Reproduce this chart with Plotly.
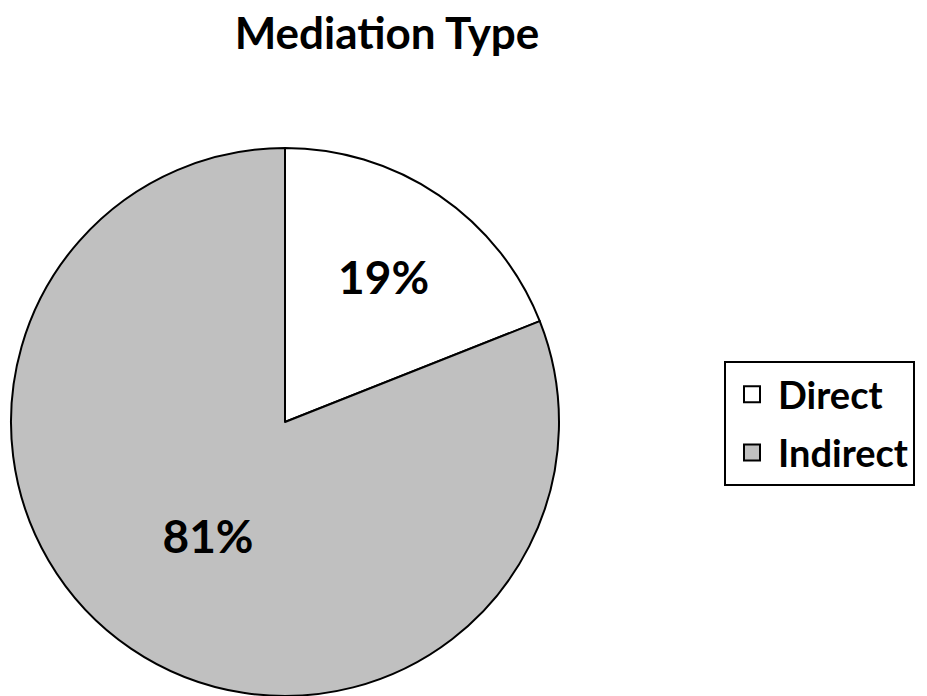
import plotly.graph_objects as go

labels = ["Direct", "Indirect"]
values = [19, 81]
colors = ["#ffffff", "#c0c0c0"]
title_text = "Mediation Type"

W, H = 927, 696
T = 60  # top margin reserved for the title
PH = H - T  # plotting-area height
cx, cy, r = 277, 414, 274  # target (285, 421) after the page's 8px body margin

fig = go.Figure()
fig.add_trace(go.Pie(
    labels=labels,
    values=values,
    sort=False,
    direction="clockwise",
    rotation=0,
    marker=dict(colors=colors, line=dict(color="black", width=2)),
    textinfo="percent",
    texttemplate="%{percent:.0%}",
    textposition="inside",
    insidetextorientation="horizontal",
    textfont=dict(family="Lato", size=46, color="black", weight="bold"),
    domain=dict(x=[(cx - r) / W, (cx + r) / W],
                y=[1 - (cy + r - T) / PH, 1 - (cy - r - T) / PH]),
    hoverinfo="label+percent",
    showlegend=False,
))

# legend entries (larger square swatches than the pie's built-in legend)
for lab, col in zip(labels, colors):
    fig.add_trace(go.Scatter(
        x=[None], y=[None], mode="markers", name=lab, legendgroup=lab,
        marker=dict(symbol="square", size=16, color=col, line=dict(color="black", width=2)),
        showlegend=True, hoverinfo="skip",
    ))

fig.update_layout(
    width=W, height=H,
    margin=dict(l=0, r=0, t=T, b=0),
    paper_bgcolor="white",
    plot_bgcolor="white",
    xaxis=dict(visible=False),
    yaxis=dict(visible=False),
    title=dict(text=title_text, x=379 / W, xanchor="center", xref="paper",
               y=1 - 26 / H, yref="container", yanchor="middle",
               font=dict(family="Lato", size=44, color="black", weight="bold")),
    legend=dict(x=716 / W, xanchor="left", y=1 - (353 - T) / PH, yanchor="top",
                bgcolor="white", bordercolor="black", borderwidth=2,
                font=dict(family="Lato", size=38, color="black", weight="bold"),
                itemsizing="trace", tracegroupgap=6, itemwidth=42),
    showlegend=True,
)

fig.write_html("out.html")
